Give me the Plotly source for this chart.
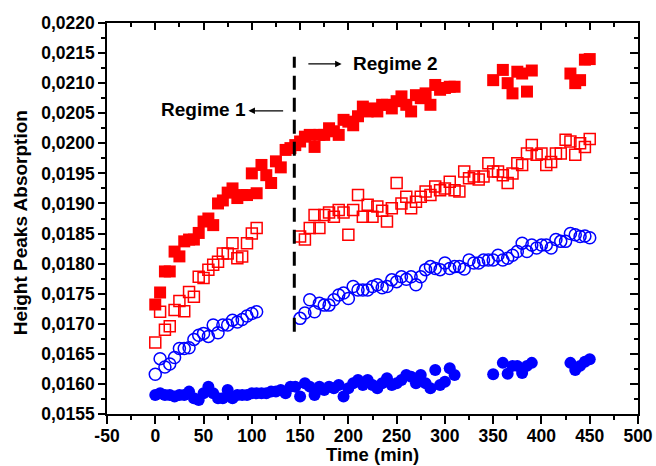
import plotly.graph_objects as go

# ---------------- data ----------------
red_filled_x = [0,5,10,15,20,25,30,35,40,45,50,55,60,65,70,75,80,85,90,95,100,105,110,115,120,125,130,135,140,145,
                150,155,160,165,170,175,180,185,190,195,200,205,210,215,220,225,230,235,240,245,250,255,260,265,270,
                275,280,285,290,295,300,305,310,
                350,360,365,370,375,380,385,390,
                430,435,440,445,450]
red_filled_y = [0.01732,0.01752,0.01787,0.01787,0.01820,0.01812,0.01837,0.01840,0.01840,0.01851,0.01870,0.01875,
                0.01864,0.01900,0.01905,0.01918,0.01925,0.01909,0.01914,0.01914,0.01950,0.01917,0.01964,0.01947,
                0.01934,0.01970,0.01960,0.01989,0.01992,0.01997,0.02003,0.02011,0.02014,0.01994,0.02014,0.02014,
                0.02025,0.02020,0.02014,0.02039,0.02036,0.02030,0.02045,0.02061,0.02053,0.02058,0.02053,0.02064,
                0.02064,0.02058,0.02070,0.02078,0.02064,0.02053,0.02080,0.02075,0.02083,0.02064,0.02097,0.02089,
                0.02092,0.02094,0.02094,
                0.02105,0.02122,0.02100,0.02083,0.02119,0.02116,0.02086,0.02121,
                0.02116,0.02100,0.02105,0.02139,0.02140]

red_open_x = [0,5,10,15,20,25,30,35,40,45,50,55,60,65,70,75,80,85,90,95,100,105,
              150,155,160,165,170,175,180,185,190,195,200,205,210,215,220,225,230,235,240,245,250,255,260,265,
              270,275,280,285,290,295,300,305,310,315,320,325,330,335,340,345,350,355,360,365,370,375,380,385,
              390,395,400,405,410,415,420,425,430,435,440,445,450]
red_open_y = [0.01669,0.01720,0.01690,0.01696,0.01723,0.01738,0.01721,0.01753,0.01745,0.01778,0.01776,0.01790,
              0.01798,0.01803,0.01817,0.01817,0.01834,0.01809,0.01812,0.01834,0.01850,0.01859,
              0.01845,0.01840,0.01859,0.01881,0.01859,0.01881,0.01885,0.01878,0.01889,0.01885,0.01848,0.01889,
              0.01914,0.01878,0.01898,0.01878,0.01895,0.01888,0.01870,0.01892,0.01934,0.01900,0.01911,0.01892,
              0.01903,0.01911,0.01920,0.01914,0.01928,0.01922,0.01925,0.01936,0.01922,0.01920,0.01953,0.01942,
              0.01945,0.01940,0.01945,0.01967,0.01953,0.01953,0.01947,0.01934,0.01950,0.01967,0.01964,0.01983,
              0.01997,0.01981,0.01983,0.01964,0.01969,0.01983,0.01983,0.02006,0.02003,0.01981,0.02000,0.01994,
              0.02007]

blue_open_x = [0,5,10,15,20,25,30,35,40,45,50,55,60,65,70,75,80,85,90,95,100,105,
               150,155,160,165,170,175,180,185,190,195,200,205,210,215,220,225,230,235,240,245,250,255,260,265,
               270,275,280,285,290,295,300,305,310,315,320,325,330,335,340,345,350,355,360,365,370,375,380,385,
               390,395,400,405,410,415,420,425,430,435,440,445,450]
blue_open_y = [0.01616,0.01642,0.01628,0.01633,0.01644,0.01659,0.01659,0.01660,0.01674,0.01681,0.01684,0.01679,
               0.01698,0.01685,0.01698,0.01698,0.01706,0.01703,0.01707,0.01713,0.01717,0.01720,
               0.01709,0.01718,0.01740,0.01720,0.01734,0.01731,0.01731,0.01740,0.01748,0.01751,0.01742,0.01762,
               0.01756,0.01756,0.01756,0.01762,0.01765,0.01760,0.01762,0.01773,0.01770,0.01778,0.01774,0.01778,
               0.01765,0.01778,0.01790,0.01795,0.01792,0.01790,0.01801,0.01792,0.01795,0.01795,0.01791,0.01806,
               0.01801,0.01801,0.01806,0.01806,0.01806,0.01814,0.01806,0.01809,0.01814,0.01820,0.01834,0.01820,
               0.01831,0.01826,0.01831,0.01831,0.01826,0.01840,0.01837,0.01837,0.01850,0.01848,0.01845,0.01846,
               0.01843]

blue_filled_x = [0,5,10,15,20,25,30,35,40,45,50,55,60,65,70,75,80,85,90,95,100,105,110,115,120,125,130,135,140,145,
                 150,155,160,165,170,175,180,185,190,195,200,205,210,215,220,225,230,235,240,245,250,255,260,265,270,
                 275,280,285,290,295,300,305,310,
                 350,360,365,370,375,380,385,390,
                 430,435,440,445,450]
blue_filled_y = [0.015817,0.015845,0.015817,0.015817,0.015790,0.015817,0.015817,0.015872,0.015762,0.015734,0.015845,
                 0.015955,0.015845,0.015762,0.015762,0.015900,0.015762,0.015817,0.015817,0.015817,0.015845,0.015845,
                 0.015845,0.015845,0.015872,0.015872,0.015900,0.015845,0.015955,0.015955,0.015790,0.016011,0.015955,
                 0.015817,0.015955,0.015900,0.015955,0.015928,0.015983,0.015790,0.015928,0.016011,0.016066,0.015983,
                 0.016066,0.015983,0.015928,0.016011,0.016094,0.015983,0.016011,0.016066,0.016150,0.016121,0.016011,
                 0.016150,0.016011,0.015928,0.016233,0.015983,0.016038,0.016261,0.016150,
                 0.01616,0.01635,0.01617,0.01630,0.01630,0.01618,0.01630,0.01635,
                 0.01635,0.01623,0.01630,0.01637,0.01641]

x_tick_vals = [-50,0,50,100,150,200,250,300,350,400,450,500]
x_tick_text = ["-50","0","50","100","150","200","250","300","350","400","450","500"]
y_tick_vals = [0.0155,0.0160,0.0165,0.0170,0.0175,0.0180,0.0185,0.0190,0.0195,0.0200,0.0205,0.0210,0.0215,0.0220]
y_tick_text = ["0,0155","0,0160","0,0165","0,0170","0,0175","0,0180","0,0185","0,0190","0,0195","0,0200",
               "0,0205","0,0210","0,0215","0,0220"]

regime_boundary = 144
regime_line_y = [0.016869, 0.02144]

# ---------------- figure ----------------
RED = "#FF0000"
BLUE = "#0000FF"
FONT = "Liberation Sans"

fig = go.Figure()
fig.add_trace(go.Scatter(x=blue_filled_x, y=blue_filled_y, mode="markers",
                         marker=dict(symbol="circle", size=12, color=BLUE, line=dict(width=0))))
fig.add_trace(go.Scatter(x=blue_open_x, y=blue_open_y, mode="markers",
                         marker=dict(symbol="circle-open", size=12, color=BLUE, line=dict(width=1.5, color=BLUE))))
fig.add_trace(go.Scatter(x=red_open_x, y=red_open_y, mode="markers",
                         marker=dict(symbol="square-open", size=11, color=RED, line=dict(width=1.5, color=RED))))
fig.add_trace(go.Scatter(x=red_filled_x, y=red_filled_y, mode="markers",
                         marker=dict(symbol="square", size=12, color=RED, line=dict(width=0))))
# dummy trace for mirror axes
fig.add_trace(go.Scatter(x=[None], y=[None], xaxis="x2", yaxis="y2", mode="markers", hoverinfo="skip"))

tickfont = dict(family=FONT, size=17.5, color="black", weight="bold")
XR = [-50, 500]
YR = [0.0155, 0.0220]

fig.update_layout(
    width=656, height=466,
    margin=dict(l=107, r=18, t=23, b=52, autoexpand=False),
    paper_bgcolor="white", plot_bgcolor="white",
    showlegend=False,
    xaxis=dict(range=XR, tickmode="array", tickvals=x_tick_vals, ticktext=x_tick_text, automargin=False,
               ticks="outside", ticklen=8, tickwidth=1.5, tickcolor="black", ticklabelstandoff=-3,
               minor=dict(tickmode="linear", tick0=-50, dtick=25, ticks="outside", ticklen=4,
                          tickwidth=1.5, tickcolor="black"),
               showline=True, linewidth=1.5, linecolor="black", mirror=True,
               showgrid=False, zeroline=False, tickfont=tickfont),
    yaxis=dict(range=YR, tickmode="array", tickvals=y_tick_vals, ticktext=y_tick_text, automargin=False,
               ticks="outside", ticklen=7, tickwidth=1.5, tickcolor="black",
               minor=dict(tickmode="linear", tick0=0.0155, dtick=0.00025, ticks="outside", ticklen=4,
                          tickwidth=1.5, tickcolor="black"),
               showline=True, linewidth=1.5, linecolor="black", mirror=True,
               showgrid=False, zeroline=False, tickfont=tickfont),
    xaxis2=dict(range=XR, overlaying="x", side="top", tickmode="array", tickvals=x_tick_vals, automargin=False,
                showticklabels=False, ticks="inside", ticklen=7, tickwidth=1.5, tickcolor="black",
                minor=dict(tickmode="linear", tick0=-50, dtick=25, ticks="inside", ticklen=4,
                           tickwidth=1.5, tickcolor="black"),
                showline=False, showgrid=False, zeroline=False),
    yaxis2=dict(range=YR, overlaying="y", side="right", tickmode="array", tickvals=y_tick_vals, automargin=False,
                showticklabels=False, ticks="inside", ticklen=8, tickwidth=1.5, tickcolor="black",
                minor=dict(tickmode="linear", tick0=0.0155, dtick=0.00025, ticks="inside", ticklen=4,
                           tickwidth=1.5, tickcolor="black"),
                showline=False, showgrid=False, zeroline=False),
)

fig.add_shape(type="line", xref="x", yref="y", x0=regime_boundary, x1=regime_boundary,
              y0=regime_line_y[0], y1=regime_line_y[1],
              line=dict(color="black", width=3, dash="14px,8px"))

afont = dict(family=FONT, size=19, color="black", weight="bold")
fig.add_annotation(x=203, y=0.02133, xref="x", yref="y", text="Regime 2", showarrow=False,
                   xanchor="left", yanchor="middle", font=afont)
fig.add_annotation(x=96, y=0.02056, xref="x", yref="y", text="Regime 1", showarrow=False,
                   xanchor="right", yanchor="middle", font=afont)
fig.add_annotation(x=193, y=0.02132, ax=157, ay=0.02132, xref="x", yref="y", axref="x", ayref="y",
                   text="", showarrow=True, arrowhead=2, arrowsize=1, arrowwidth=1.3, arrowcolor="black")
fig.add_annotation(x=96.5, y=0.02054, ax=134, ay=0.02054, xref="x", yref="y", axref="x", ayref="y",
                   text="", showarrow=True, arrowhead=2, arrowsize=1, arrowwidth=1.3, arrowcolor="black")

# axis titles
fig.add_annotation(x=-0.164, y=0.49, xref="paper", yref="paper", text="Height Peaks Absorption",
                   textangle=-90, showarrow=False, xanchor="center", yanchor="middle", font=afont)
fig.add_annotation(x=0.5, y=-0.133, xref="paper", yref="paper", text="Time (min)",
                   showarrow=False, xanchor="center", yanchor="bottom", borderpad=0,
                   font=dict(family=FONT, size=18.5, color="black", weight="bold"))

fig.write_html("out.html", config={"displayModeBar": False},
               post_script="document.body.style.margin='0';document.body.style.overflow='hidden';")
